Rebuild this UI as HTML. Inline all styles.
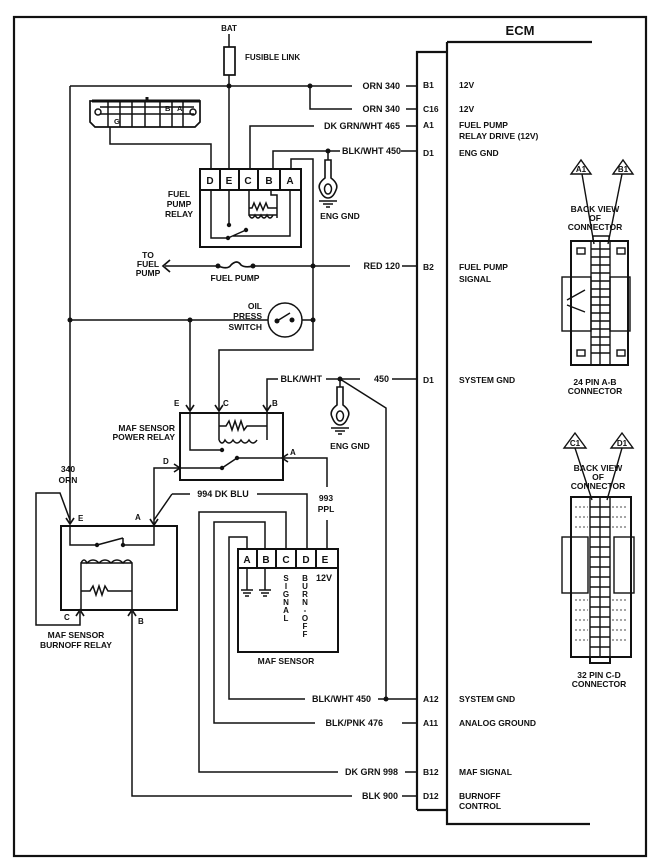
<!DOCTYPE html>
<html><head><meta charset="utf-8"><style>
body{margin:0;background:#fff}
svg{display:block}
text{font-family:"Liberation Sans",sans-serif;font-weight:bold;fill:#111}
</style></head><body>
<svg width="653" height="865" viewBox="0 0 653 865" xmlns="http://www.w3.org/2000/svg" font-size="8.5">
<g fill="none" stroke="#111" stroke-width="1.5">
<rect x="14" y="17" width="632" height="839" stroke-width="2.2"/>
<!-- ECM -->
<path d="M417 810 V52 H447 M447 42 H592 M447 42 V824 H590 M417 810 H447" stroke-width="2.2"/>
<!-- BAT -->
<path d="M229 34 V47 M229 75 V86"/>
<rect x="224" y="47" width="11" height="28" stroke-width="1.7"/>
<!-- top ORN -->
<path d="M70 86 H352 M406 86 H416"/>
<path d="M310 86 V109 H352 M406 109 H416"/>
<path d="M229 86 V170"/>
<path d="M250 170 V126 H314 M406 126 H416"/>
<path d="M273 170 V151 H340 M401 151 H417"/>
<path d="M291 170 V159 H313 V350 H219 V410"/>
<!-- DLC -->
<path d="M92 101 H200 V122 L195 127 H95 L90 122 V101 Z" stroke-width="1.7"/>
<path d="M92 101 H200" stroke-width="3"/>
<path d="M100 107 H194 M100 114 H194 M108 102 V127 M120 102 V127 M132 102 V127 M145 102 V127 M160 102 V127 M172 102 V127 M183 102 V127"/>
<circle cx="98" cy="112" r="3"/><circle cx="193" cy="112" r="3"/>
<path d="M147 97 V101" stroke-width="3"/>
<path d="M110 127 V144 H211 V170"/>
<!-- fuel pump relay -->
<rect x="200" y="169" width="101" height="78" stroke-width="2"/>
<path d="M200 190 H301 M220 169 V190 M239 169 V190 M258 169 V190 M280 169 V190" stroke-width="2"/>
<path d="M229 190 V225 M211 190 V238 H228 M228 238 L246 230 M246 230 V232 M233 236 H290 V190"/>
<path d="M249 190 V215 H277 V195 H271 V190 M249 208 H252 L254 203 L257 210 L260 203 L263 210 L266 203 L268 208 H277 M249 215 q3 6 6 0 q3 6 6 0 q3 6 6 0 q3 6 6 0 M277 215 V218"/>
<!-- eng gnd 1 -->
<path d="M328 151 V160"/>
<path d="M325 160 H331 V178 q8 6 5 12 q-3 8 -8 8 q-5 0 -8 -8 q-3 -6 5 -12 Z" stroke-width="1.6"/>
<ellipse cx="328" cy="189" rx="3.5" ry="5"/>
<path d="M319 201 H337 M323 204 H333 M326 207 H330"/>
<!-- RED 120 -->
<path d="M165 266 H218 M253 266 H350 M402 266 H416"/>
<path d="M170 260 L163 266 L170 272" stroke-width="1.7"/>
<path d="M218 266 q10 4 13 -1 q6 -6 10 0 q4 3 12 1" stroke-width="1.7"/>
<!-- oil press -->
<path d="M70 320 H313"/>
<circle cx="285" cy="320" r="17" fill="#fff"/>
<path d="M277 321 L290 313"/>
<!-- left verticals -->
<path d="M70 86 V523"/>
<path d="M190 320 V410 M190 413 V450 H222"/>
<!-- MAF power relay -->
<rect x="180" y="413" width="103" height="67" stroke-width="2"/>
<path d="M219 413 V440 M267 410 V413 M219 426 H226 L229 421 L232 430 L235 421 L238 430 L241 421 L244 430 L247 426 H267 M219 440 q3 6 6 0 q4 6 8 0 q4 6 8 0 q4 6 8 0 q4 6 8 0 M267 413 V440"/>
<path d="M178 468 H222 M222 468 L237 458 M237 458 H283 M283 458 H327 V487 M327 520 V550"/>
<path d="M267 410 V379 H278 M326 379 H360 M392 379 H416"/>
<path d="M340 379 L386 408 V699"/>
<!-- eng gnd 2 -->
<path d="M340 379 V387"/>
<path d="M337 387 H343 V405 q8 6 5 12 q-3 8 -8 8 q-5 0 -8 -8 q-3 -6 5 -12 Z" stroke-width="1.6"/>
<ellipse cx="340" cy="416" rx="3.5" ry="5"/>
<path d="M331 428 H349 M335 431 H345 M338 434 H342"/>
<!-- D to burnoff A -->
<path d="M178 468 H154 V525"/>
<path d="M172 494 L154 520 M172 494 H190 M257 494 H307 V550"/>
<!-- burnoff relay -->
<rect x="61" y="526" width="116" height="84" stroke-width="2"/>
<path d="M70 526 V545 H97 M97 545 L123 538 M123 545 H154 V526 M123 538 V545"/>
<path d="M81 610 V563 H132 V610 M81 563 q3 -6 6 0 q6 -6 12 0 q6 -6 12 0 q6 -6 12 0 q5 -6 9 0 M81 591 H90 L93 586 L96 595 L99 586 L102 595 L105 586 L108 591 H132"/>
<path d="M80 612 V625 H36 V493 H60 L70 520"/>
<path d="M132 612 V796 H352 M402 796 H416"/>
<!-- MAF sensor -->
<rect x="238" y="549" width="100" height="103" stroke-width="2"/>
<path d="M238 568 H338 M257 549 V568 M276 549 V568 M296 549 V568 M316 549 V568" stroke-width="2"/>
<path d="M247 568 V590 M241 590 H253 M243 593 H251 M245 596 H249 M265 568 V590 M259 590 H271 M261 593 H269 M263 596 H267"/>
<path d="M247 549 V537 H229 V699 H305 M378 699 H417"/>
<path d="M265 549 V522 H214 V723 H315 M402 723 H417"/>
<path d="M286 549 V512 H199 V772 H338 M405 772 H417"/>
<!-- arrowheads -->
<g stroke-width="1.6">
<path d="M186 405 L190 411 L194 405 M215 405 L219 411 L223 405 M263 405 L267 411 L271 405"/>
<path d="M174 464 L180 468 L174 472 M288 454 L282 458 L288 462"/>
<path d="M66 518 L70 524 L74 518 M150 519 L154 525 L158 519"/>
<path d="M76 616 L80 610 L84 616 M128 616 L132 610 L136 616"/>
</g>
<!-- connectors -->
<g stroke-width="1.4">
<path d="M571 174 L581 160 L591 174 Z M613 174 L623 160 L633 174 Z"/>
<path d="M582 174 L594 244 M622 174 L608 244"/>
<rect x="571" y="241" width="57" height="124" stroke-width="2"/>
<rect x="562" y="277" width="29" height="54"/>
<rect x="610" y="277" width="20" height="54"/>
<path d="M591 241 V365 M600 241 V365 M610 241 V365 M591 249 H610 M591 257 H610 M591 265 H610 M591 273 H610 M591 281 H610 M591 289 H610 M591 297 H610 M591 305 H610 M591 313 H610 M591 321 H610 M591 329 H610 M591 337 H610 M591 345 H610 M591 353 H610"/>
<rect x="577" y="248" width="8" height="6"/><rect x="617" y="248" width="8" height="6"/>
<rect x="577" y="350" width="8" height="6"/><rect x="617" y="350" width="8" height="6"/>
<path d="M593 236 H609 V241 M593 236 V241"/>
<path d="M567 300 L585 290 M567 305 L585 312"/>
<path d="M564 448 L575 433 L586 448 Z M611 448 L622 433 L633 448 Z"/>
<path d="M575 448 L592 500 M622 448 L607 500"/>
<rect x="571" y="497" width="60" height="160" stroke-width="2"/>
<rect x="562" y="537" width="26" height="56"/>
<rect x="614" y="537" width="20" height="56"/>
<path d="M590 497 V657 M600 497 V657 M610 497 V657 M590 507 H610 M590 517 H610 M590 527 H610 M590 537 H610 M590 547 H610 M590 557 H610 M590 567 H610 M590 577 H610 M590 587 H610 M590 597 H610 M590 607 H610 M590 617 H610 M590 627 H610 M590 637 H610 M590 647 H610"/>
<path d="M575 507 H588 M575 517 H588 M575 527 H588 M612 507 H628 M612 517 H628 M612 527 H628 M575 600 H588 M575 610 H588 M575 620 H588 M575 630 H588 M575 640 H588 M612 600 H628 M612 610 H628 M612 620 H628 M612 630 H628 M612 640 H628" stroke-dasharray="2 2" stroke-width="0.8"/>
<path d="M590 657 V663 H610 V657" stroke-width="2"/>
</g>
</g>
<!-- dots -->
<g fill="#111">
<circle cx="229" cy="86" r="2.5"/><circle cx="310" cy="86" r="2.5"/><circle cx="328" cy="151" r="2.5"/>
<circle cx="229" cy="225" r="2.2"/><circle cx="228" cy="238" r="2.2"/><circle cx="246" cy="230" r="2.2"/>
<circle cx="218" cy="266" r="2.5"/><circle cx="253" cy="266" r="2.5"/><circle cx="313" cy="266" r="2.5"/>
<circle cx="70" cy="320" r="2.5"/><circle cx="190" cy="320" r="2.5"/><circle cx="313" cy="320" r="2.5"/>
<circle cx="277" cy="321" r="2.5"/><circle cx="292" cy="320" r="2.5"/>
<circle cx="222" cy="450" r="2.2"/><circle cx="222" cy="468" r="2.2"/><circle cx="237" cy="458" r="2.2"/>
<circle cx="340" cy="379" r="2.5"/><circle cx="386" cy="699" r="2.5"/>
<circle cx="97" cy="545" r="2.2"/><circle cx="123" cy="545" r="2.2"/>
</g>
<!-- texts -->
<text x="229" y="31" text-anchor="middle" font-size="8">BAT</text>
<text x="245" y="60" font-size="8">FUSIBLE LINK</text>
<g font-size="9" text-anchor="end">
<text x="400" y="89">ORN  340</text>
<text x="400" y="112">ORN  340</text>
<text x="400" y="129">DK GRN/WHT 465</text>
<text x="401" y="154">BLK/WHT 450</text>
<text x="400" y="269">RED  120</text>
<text x="389" y="382">450</text>
<text x="322" y="382">BLK/WHT</text>
<text x="371" y="702">BLK/WHT 450</text>
<text x="383" y="726">BLK/PNK  476</text>
<text x="398" y="775">DK GRN 998</text>
<text x="398" y="799">BLK  900</text>
</g>
<text x="520" y="35" text-anchor="middle" font-size="13">ECM</text>
<g font-size="8.5">
<text x="423" y="88">B1</text><text x="423" y="112">C16</text><text x="423" y="128">A1</text><text x="423" y="156">D1</text>
<text x="423" y="270">B2</text><text x="423" y="383">D1</text><text x="423" y="702">A12</text><text x="423" y="726">A11</text>
<text x="423" y="775">B12</text><text x="423" y="799">D12</text>
<text x="459" y="88">12V</text><text x="459" y="112">12V</text><text x="459" y="128">FUEL PUMP</text><text x="459" y="139">RELAY DRIVE (12V)</text>
<text x="459" y="156">ENG GND</text><text x="459" y="270">FUEL PUMP</text><text x="459" y="282">SIGNAL</text>
<text x="459" y="383">SYSTEM GND</text><text x="459" y="702">SYSTEM GND</text><text x="459" y="726">ANALOG GROUND</text>
<text x="459" y="775">MAF SIGNAL</text><text x="459" y="799">BURNOFF</text><text x="459" y="809">CONTROL</text>
</g>
<text x="114" y="124" font-size="7.5">G</text><text x="165" y="111" font-size="7.5">B</text><text x="177" y="111" font-size="7.5">A</text>
<g font-size="10" text-anchor="middle"><text x="210" y="184">D</text><text x="229" y="184">E</text><text x="248" y="184">C</text><text x="269" y="184">B</text><text x="290" y="184">A</text>
<text x="247" y="563">A</text><text x="266" y="563">B</text><text x="286" y="563">C</text><text x="306" y="563">D</text><text x="325" y="563">E</text></g>
<g text-anchor="middle" font-size="8.5"><text x="179" y="197">FUEL</text><text x="179" y="207">PUMP</text><text x="179" y="217">RELAY</text>
<text x="340" y="219">ENG GND</text><text x="350" y="449">ENG GND</text>
<text x="148" y="258">TO</text><text x="148" y="267">FUEL</text><text x="148" y="276">PUMP</text>
<text x="235" y="281">FUEL PUMP</text>
<text x="68" y="472">340</text><text x="68" y="483">ORN</text>
<text x="326" y="501">993</text><text x="326" y="512">PPL</text>
<text x="286" y="664">MAF SENSOR</text>
<text x="76" y="638">MAF SENSOR</text><text x="76" y="648">BURNOFF RELAY</text>
<text x="595" y="212">BACK VIEW</text><text x="595" y="221">OF</text><text x="595" y="230">CONNECTOR</text>
<text x="595" y="385">24 PIN  A-B</text><text x="595" y="394">CONNECTOR</text>
<text x="598" y="471">BACK VIEW</text><text x="598" y="480">OF</text><text x="598" y="489">CONNECTOR</text>
<text x="599" y="678">32  PIN C-D</text><text x="599" y="687">CONNECTOR</text>
<text x="581" y="172" font-size="8">A1</text><text x="623" y="172" font-size="8">B1</text>
<text x="575" y="446" font-size="8">C1</text><text x="622" y="446" font-size="8">D1</text>
</g>
<g text-anchor="end" font-size="8.5"><text x="262" y="309">OIL</text><text x="262" y="319">PRESS</text><text x="262" y="330">SWITCH</text>
<text x="175" y="431">MAF  SENSOR</text><text x="175" y="440">POWER RELAY</text></g>
<text x="223" y="497" font-size="9" text-anchor="middle">994 DK BLU</text>
<g font-size="8"><text x="174" y="406">E</text><text x="223" y="406">C</text><text x="272" y="406">B</text><text x="163" y="464">D</text><text x="290" y="455">A</text>
<text x="78" y="521">E</text><text x="135" y="520">A</text><text x="64" y="620">C</text><text x="138" y="624">B</text></g>
<text x="316" y="581" font-size="9">12V</text>
<g font-size="8" text-anchor="middle"><text x="286" y="581">S</text><text x="286" y="589">I</text><text x="286" y="597">G</text><text x="286" y="605">N</text><text x="286" y="613">A</text><text x="286" y="621">L</text>
<text x="305" y="581">B</text><text x="305" y="589">U</text><text x="305" y="597">R</text><text x="305" y="605">N</text><text x="305" y="613">-</text><text x="305" y="621">O</text><text x="305" y="629">F</text><text x="305" y="637">F</text></g>
</svg>
</body></html>
